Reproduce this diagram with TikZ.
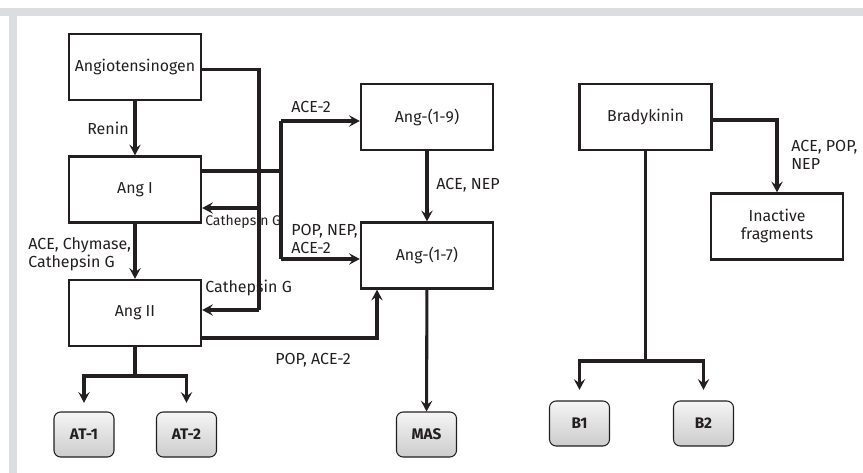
\documentclass[tikz,border=0pt]{standalone}
\usepackage{fontspec}
\setmainfont{Fira Sans}
\usepackage{tikz}
\usetikzlibrary{arrows.meta, positioning, shadings}

\definecolor{ink}{HTML}{231F20}
\definecolor{framegray}{HTML}{DCDDDE}

\begin{document}
\begin{tikzpicture}[
        x=0.75pt, y=-0.75pt,
        box/.style={draw=ink, line width=1.8pt, minimum width=99pt, minimum height=49.5pt, align=center, font=\fontsize{11.9}{13.5}\selectfont, text=ink},
        receptor/.style={draw=ink, line width=0.8pt, rounded corners=5pt, minimum width=45pt, minimum height=33.75pt, top color=black!4, bottom color=black!20, font=\bfseries\fontsize{11.5}{13}\selectfont, text=ink},
        lbl/.style={font=\fontsize{12}{13.5}\selectfont, text=ink, align=left, inner sep=0pt},
        line/.style={draw=ink, line width=2.3pt},
        arr/.style={line, -{Stealth[length=8pt, width=8.5pt, inset=3pt]}}
    ]
    \useasboundingbox (0,0) rectangle (863,473);
    % Frame
    \fill[framegray] (0,8) rectangle (863,16);
    \fill[framegray] (9,8) rectangle (17,473);
    % Define nodes
    \node[box] (angio) at (135,67) {Angiotensinogen};
    \node[box] (angI) at (135,189.5) {Ang I};
    \node[box] (angII) at (135,313) {Ang II};
    \node[box] (ang19) at (427,117) {Ang-(1-9)};
    \node[box] (ang17) at (427,255.5) {Ang-(1-7)};
    \node[box] (brady) at (645.5,117) {Bradykinin};
    \node[box] (inact) at (777,226.5) {Inactive\\fragments};
    \node[receptor] (at1) at (84,434.5) {AT-1};
    \node[receptor] (at2) at (186.5,434.5) {AT-2};
    \node[receptor] (mas) at (426.5,434.5) {MAS};
    \node[receptor] (b1) at (579.5,423.5) {B1};
    \node[receptor] (b2) at (703.5,423.5) {B2};
    % Junctions
    \coordinate (jAo) at (259,69.5);
    \coordinate (jCG) at (259,208);
    \coordinate (jCGb) at (259,310);
    \coordinate (jI) at (281,171);
    \coordinate (jI9) at (281,121);
    \coordinate (jI7) at (281,259);
    \coordinate (jII) at (377,338);
    \coordinate (jT) at (135,376);
    \coordinate (jBr) at (777,120);
    \coordinate (jB) at (645.5,361);
    % Draw edges
    \draw[arr] (angio) -- (angI);
    \draw[arr] (angI) -- (angII);
    \draw[line] (angio.east |- jAo) -- (jAo) -- (jCGb);
    \draw[arr] (jCG) -- (jCG -| angI.east);
    \draw[arr] (jCGb) -- (jCGb -| angII.east);
    \draw[line] (angI.east |- jI) -- (jI);
    \draw[line] (jI9) -- (jI7);
    \draw[arr] (jI9) -- (jI9 -| ang19.west);
    \draw[arr] (jI7) -- (jI7 -| ang17.west);
    \draw[arr] (ang19) -- (ang17);
    \draw[arr] (ang17) -- (mas);
    \draw[arr] (angII.east |- jII) -| (ang17.south -| jII);
    \draw[line] (angII.south) -- (jT);
    \draw[arr, shorten >=6.5pt] (jT) -| (at1.north);
    \draw[arr, shorten >=6.5pt] (jT) -| (at2.north);
    \draw[arr] (brady.east |- jBr) -| (inact.north);
    \draw[line] (brady.south) -- (jB);
    \draw[arr, shorten >=8pt] (jB) -| (b1.north);
    \draw[arr, shorten >=8pt] (jB) -| (b2.north);
    % Labels
    \node[lbl, anchor=west] (lRenin) at (87,128) {Renin};
    \node[lbl, anchor=west] (lChy) at (28,254) {ACE, Chymase,\\Cathepsin G};
    \node[lbl, anchor=west, font=\fontsize{10.5}{12}\selectfont] (lCGa) at (205,222) {Cathepsin G};
    \node[lbl, anchor=west] (lCGb) at (205,288) {Cathepsin G};
    \node[lbl, anchor=west] (lA2) at (291,107) {ACE-2};
    \node[lbl, anchor=west] (lPNA) at (291,238.5) {POP, NEP,\\ACE-2};
    \node[lbl, anchor=west] (lAN) at (436,185) {ACE, NEP};
    \node[lbl] (lPA) at (313,360) {POP, ACE-2};
    \node[lbl, anchor=west] (lAPN) at (791,155) {ACE, POP,\\NEP};
\end{tikzpicture}
\end{document}
